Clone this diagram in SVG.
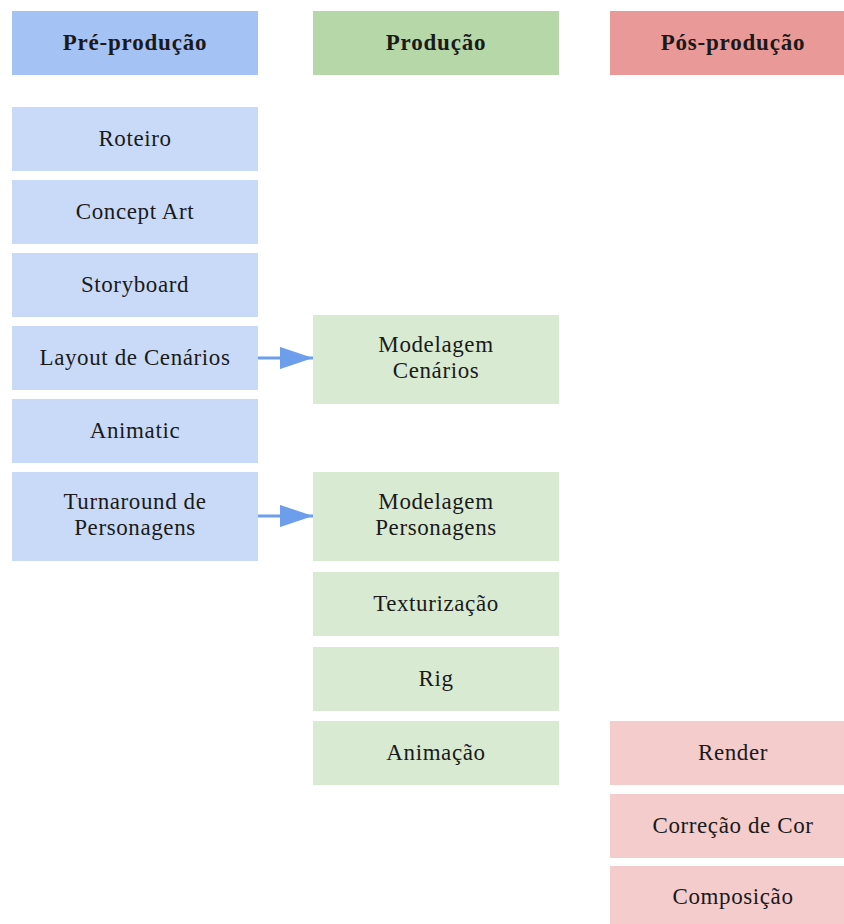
<svg xmlns="http://www.w3.org/2000/svg" width="844" height="924" viewBox="0 0 844 924">
<style>
text{font-family:"Liberation Serif","Times New Roman",serif;font-size:23px;letter-spacing:0.6px;fill:#1a1a1a;text-anchor:middle;dominant-baseline:central}
.h{font-weight:bold;letter-spacing:0.8px}
.hb{fill:#a4c2f4}.b{fill:#c9daf8}
.hg{fill:#b6d7a8}.g{fill:#d9ead3}
.hr{fill:#ea9999}.r{fill:#f4cccc}
.c{stroke:#6d9eeb;stroke-width:3;fill:none}
</style>
<defs>
<marker id="ah" viewBox="0 0 11 7.4" refX="11" refY="3.7" markerWidth="11" markerHeight="7.4" markerUnits="strokeWidth" orient="auto">
<path d="M0,0L11,3.7L0,7.4z" fill="#6d9eeb"/>
</marker>
</defs>
<g id="h1"><rect class="hb" x="12" y="11" width="246" height="64"/><text class="h" x="135" y="42">Pré-produção</text></g>
<g id="h2"><rect class="hg" x="313" y="11" width="246" height="64"/><text class="h" x="436" y="42">Produção</text></g>
<g id="h3"><rect class="hr" x="610" y="11" width="234" height="64"/><text class="h" x="733" y="42">Pós-produção</text></g>
<g id="roteiro"><rect class="b" x="12" y="107" width="246" height="64"/><text x="135" y="138">Roteiro</text></g>
<g id="concept"><rect class="b" x="12" y="180" width="246" height="64"/><text x="135" y="211">Concept Art</text></g>
<g id="storyboard"><rect class="b" x="12" y="253" width="246" height="64"/><text x="135" y="284">Storyboard</text></g>
<g id="layout"><rect class="b" x="12" y="326" width="246" height="64"/><text x="135" y="357">Layout de Cenários</text></g>
<g id="animatic"><rect class="b" x="12" y="399" width="246" height="64"/><text x="135" y="430">Animatic</text></g>
<g id="turnaround"><rect class="b" x="12" y="472" width="246" height="89"/><text x="135" y="501">Turnaround de</text><text x="135" y="527">Personagens</text></g>
<g id="modcen"><rect class="g" x="313" y="315" width="246" height="89"/><text x="436" y="344">Modelagem</text><text x="436" y="370">Cenários</text></g>
<g id="modper"><rect class="g" x="313" y="472" width="246" height="89"/><text x="436" y="501">Modelagem</text><text x="436" y="527">Personagens</text></g>
<g id="textura"><rect class="g" x="313" y="572" width="246" height="64"/><text x="436" y="603">Texturização</text></g>
<g id="rig"><rect class="g" x="313" y="647" width="246" height="64"/><text x="436" y="678">Rig</text></g>
<g id="animacao"><rect class="g" x="313" y="721" width="246" height="64"/><text x="436" y="752">Animação</text></g>
<g id="render"><rect class="r" x="610" y="721" width="234" height="64"/><text x="733" y="752">Render</text></g>
<g id="correcao"><rect class="r" x="610" y="794" width="234" height="64"/><text x="733" y="825">Correção de Cor</text></g>
<g id="composicao"><rect class="r" x="610" y="866" width="234" height="64"/><text x="733" y="896">Composição</text></g>
<g id="connectors">
<path class="c" d="M258,358H313" marker-end="url(#ah)"/>
<path class="c" d="M258,516H313" marker-end="url(#ah)"/>
</g>
</svg>
